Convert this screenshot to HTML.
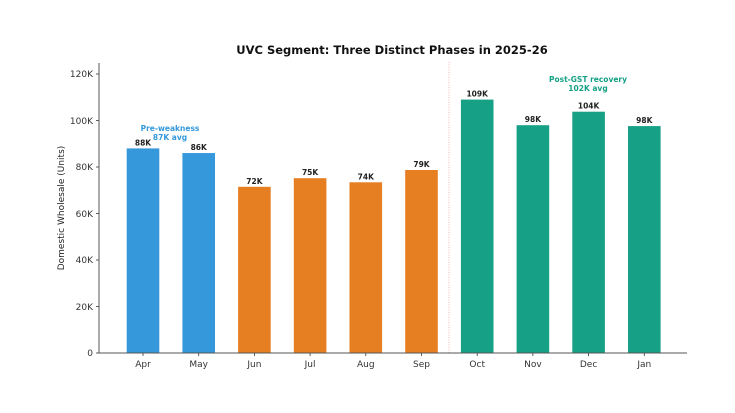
<!DOCTYPE html>
<html><head><style>body{margin:0;background:#fff}svg{display:block;font-family:"DejaVu Sans","Liberation Sans",sans-serif}</style></head><body>
<svg width="735" height="413" viewBox="0 0 735 413">
<text x="392" y="54" text-anchor="middle" font-size="11.5" font-weight="bold" fill="#111">UVC Segment: Three Distinct Phases in 2025-26</text>
<g font-size="9" fill="#333" text-anchor="end">
<text x="93" y="356">0</text><text x="93" y="310">20K</text><text x="93" y="263">40K</text><text x="93" y="217">60K</text><text x="93" y="170">80K</text><text x="93" y="124">100K</text><text x="93" y="77">120K</text>
</g>
<g stroke="#333" stroke-width="0.8">
<line x1="96" y1="353" x2="99" y2="353"/><line x1="96" y1="306.5" x2="99" y2="306.5"/><line x1="96" y1="260" x2="99" y2="260"/><line x1="96" y1="213.5" x2="99" y2="213.5"/><line x1="96" y1="167" x2="99" y2="167"/><line x1="96" y1="120.5" x2="99" y2="120.5"/><line x1="96" y1="74" x2="99" y2="74"/>
</g>
<text transform="translate(64,208) rotate(-90)" text-anchor="middle" font-size="9" fill="#222">Domestic Wholesale (Units)</text>
<line x1="449" y1="62" x2="449" y2="353" stroke="#f2b8b8" stroke-width="1" stroke-dasharray="1,1.5"/>
<g>
<rect x="126.7" y="148.4" width="32.6" height="204.6" fill="#3498db"/>
<rect x="182.4" y="153.05" width="32.6" height="199.95" fill="#3498db"/>
<rect x="238.1" y="186.8" width="32.6" height="166.2" fill="#e67e22"/>
<rect x="293.8" y="178.2" width="32.6" height="174.8" fill="#e67e22"/>
<rect x="349.5" y="182.3" width="32.6" height="170.7" fill="#e67e22"/>
<rect x="405.2" y="170.0" width="32.6" height="183" fill="#e67e22"/>
<rect x="460.9" y="99.6" width="32.6" height="253.4" fill="#16a085"/>
<rect x="516.6" y="125.2" width="32.6" height="227.8" fill="#16a085"/>
<rect x="572.3" y="111.7" width="32.6" height="241.3" fill="#16a085"/>
<rect x="628.0" y="126.1" width="32.6" height="226.9" fill="#16a085"/>
</g>
<g font-size="7.5" font-weight="bold" fill="#222" text-anchor="middle">
<text x="143" y="145.4">88K</text><text x="198.7" y="150">86K</text><text x="254.4" y="183.8">72K</text><text x="310.1" y="175.2">75K</text><text x="365.8" y="179.3">74K</text><text x="421.5" y="167">79K</text><text x="477.2" y="96.6">109K</text><text x="532.9" y="122.2">98K</text><text x="588.6" y="108.7">104K</text><text x="644.3" y="123.1">98K</text>
</g>
<g stroke="#333" stroke-width="0.8">
<line x1="143" y1="353" x2="143" y2="356"/><line x1="198.7" y1="353" x2="198.7" y2="356"/><line x1="254.4" y1="353" x2="254.4" y2="356"/><line x1="310.1" y1="353" x2="310.1" y2="356"/><line x1="365.8" y1="353" x2="365.8" y2="356"/><line x1="421.5" y1="353" x2="421.5" y2="356"/><line x1="477.2" y1="353" x2="477.2" y2="356"/><line x1="532.9" y1="353" x2="532.9" y2="356"/><line x1="588.6" y1="353" x2="588.6" y2="356"/><line x1="644.3" y1="353" x2="644.3" y2="356"/>
</g>
<g font-size="9" fill="#333" text-anchor="middle">
<text x="143" y="367">Apr</text><text x="198.7" y="367">May</text><text x="254.4" y="367">Jun</text><text x="310.1" y="367">Jul</text><text x="365.8" y="367">Aug</text><text x="421.5" y="367">Sep</text><text x="477.2" y="367">Oct</text><text x="532.9" y="367">Nov</text><text x="588.6" y="367">Dec</text><text x="644.3" y="367">Jan</text>
</g>
<line x1="99" y1="63" x2="99" y2="353" stroke="#555" stroke-width="1"/>
<line x1="99" y1="353" x2="687" y2="353" stroke="#555" stroke-width="1"/>
<text x="170" y="131" text-anchor="middle" font-size="7.5" font-weight="bold" fill="#3498db">Pre-weakness</text>
<text x="170" y="140" text-anchor="middle" font-size="7.5" font-weight="bold" fill="#3498db">87K avg</text>
<text x="588" y="82" text-anchor="middle" font-size="7.5" font-weight="bold" fill="#16a085">Post-GST recovery</text>
<text x="588" y="91" text-anchor="middle" font-size="7.5" font-weight="bold" fill="#16a085">102K avg</text>
</svg>
</body></html>
